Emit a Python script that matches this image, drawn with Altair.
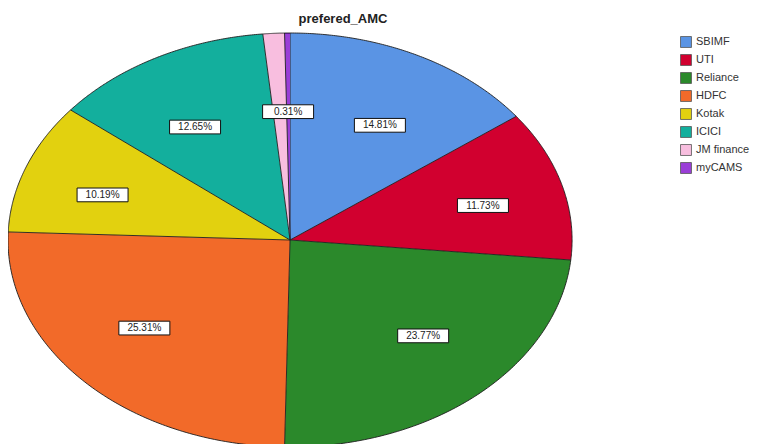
import altair as alt
import pandas as pd

categories = ["SBIMF", "UTI", "Reliance", "HDFC", "Kotak", "ICICI", "JM finance", "myCAMS"]
percents = [14.81, 11.73, 23.77, 25.31, 10.19, 12.65, 1.23, 0.31]
colors = ["#5A94E4", "#D1002F", "#2B892B", "#F26A29", "#E2D10F", "#13AF9D", "#F8BEDF", "#9A3ED7"]
show_label = [True, True, True, True, True, True, False, True]
title_text = "prefered_AMC"

df = pd.DataFrame({
    "cat": categories,
    "pct": percents,
    "ord": list(range(len(categories))),
    "show": show_label,
})

N = 120
W, H = 757, 436
xscale = alt.Scale(domain=[-1.0, 1.684], nice=False, zero=False)
yscale = alt.Scale(domain=[-0.9855, 1.1208], nice=False, zero=False)
font = "Liberation Sans"

base = (
    alt.Chart(df)
    .transform_window(cum="sum(pct)", sort=[alt.SortField("ord")], frame=[None, 0])
    .transform_joinaggregate(total="sum(pct)")
    .transform_calculate(
        a0="2*PI*(datum.cum - datum.pct)/datum.total",
        a1="2*PI*datum.cum/datum.total",
    )
)

slices = (
    base.transform_calculate(steps=f"sequence(-1, {N + 1})")
    .transform_flatten(["steps"], as_=["k"])
    .transform_calculate(
        ang=f"datum.a0 + (datum.a1 - datum.a0) * datum.k / {N}",
        px="datum.k < 0 ? 0 : sin(datum.ang)",
        py="datum.k < 0 ? 0 : cos(datum.ang)",
    )
    .mark_line(stroke="#1e1e1e", strokeWidth=0.9, strokeJoin="round", fillOpacity=1)
    .encode(
        x=alt.X("px:Q", scale=xscale, axis=None),
        y=alt.Y("py:Q", scale=yscale, axis=None),
        fill=alt.Fill(
            "cat:N",
            scale=alt.Scale(domain=categories, range=colors),
            sort=categories,
            legend=alt.Legend(
                title=None,
                orient="none",
                legendX=672,
                legendY=28,
                symbolType="square",
                symbolSize=120,
                symbolStrokeColor="#555555",
                symbolStrokeWidth=0.8,
                symbolOpacity=1,
                labelFont=font,
                labelFontSize=11,
                labelColor="#333333",
                labelOffset=4,
                rowPadding=2,
            ),
        ),
        detail="cat:N",
        order=alt.Order("k:Q"),
    )
)

lab = (
    base.transform_filter("datum.show")
    .transform_calculate(
        mid="(datum.a0 + datum.a1)/2",
        lx="0.71*sin(datum.mid)",
        ly="0.62*cos(datum.mid)",
        lab="format(datum.pct, '.2f') + '%'",
    )
)

boxes = lab.mark_point(
    shape="M-1,-0.27L1,-0.27L1,0.27L-1,0.27Z",
    size=2600,
    filled=True,
    fill="white",
    stroke="#111111",
    strokeWidth=1,
    opacity=1,
).encode(
    x=alt.X("lx:Q", scale=xscale, axis=None),
    y=alt.Y("ly:Q", scale=yscale, axis=None),
)

texts = lab.mark_text(font=font, fontSize=10, color="#222222").encode(
    x=alt.X("lx:Q", scale=xscale, axis=None),
    y=alt.Y("ly:Q", scale=yscale, axis=None),
    text="lab:N",
)

title = (
    alt.Chart(pd.DataFrame({"t": [title_text]}))
    .mark_text(font=font, fontSize=13, fontWeight="bold", color="#222222")
    .encode(x=alt.value(335), y=alt.value(11), text="t:N")
)

chart = (
    alt.layer(slices, boxes, texts, title)
    .properties(
        width=W,
        height=H,
        autosize=alt.AutoSizeParams(type="none"),
        padding=0,
        background="white",
    )
    .configure_view(strokeWidth=0, stroke="transparent")
)

chart.save("out.html", embed_options={"renderer": "svg", "actions": False})
